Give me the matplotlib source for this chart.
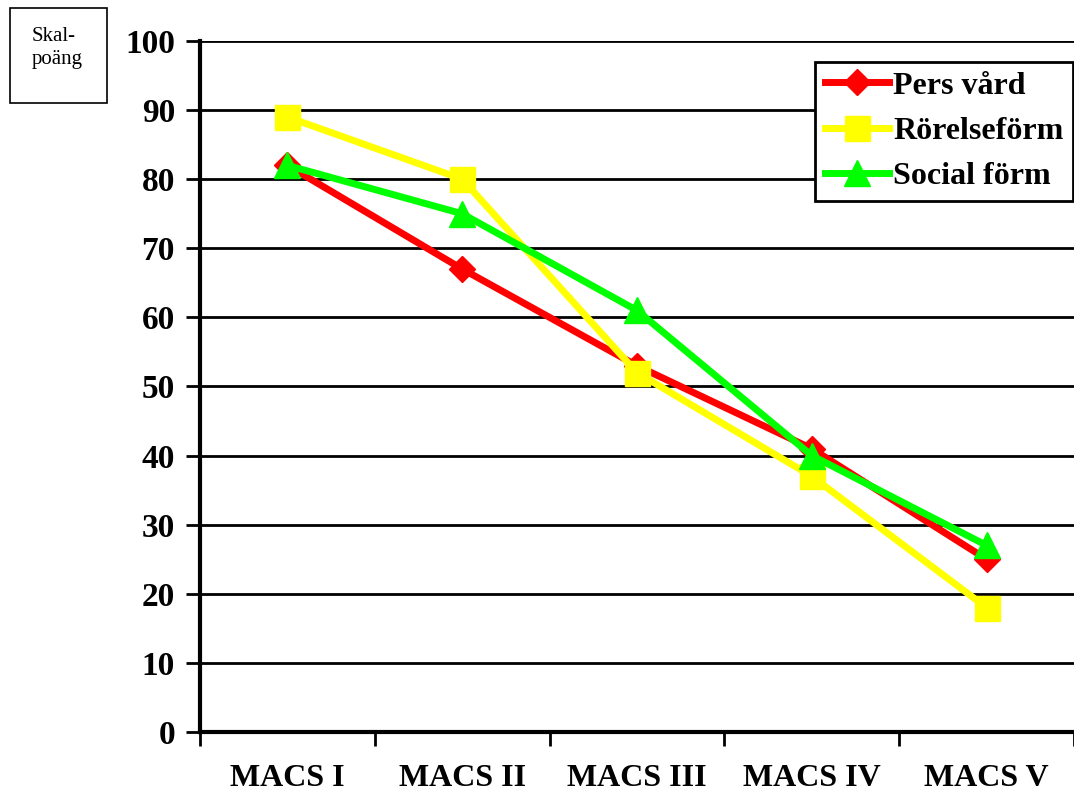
import matplotlib
matplotlib.use("Agg")
import matplotlib.pyplot as plt
from matplotlib.patches import Rectangle

categories = ["MACS I", "MACS II", "MACS III", "MACS IV", "MACS V"]
pers_vard = [82, 67, 53, 41, 25]
rorelseform = [89, 80, 52, 37, 18]
social_form = [82, 75, 61, 40, 27]
yticks = list(range(0, 101, 10))

plt.rcParams['font.family'] = ['Liberation Serif', 'DejaVu Serif']

fig = plt.figure(figsize=(10.74, 7.94), dpi=100)
ax = fig.add_axes([0.1862, 0.0781, 0.8138, 0.8703])

x = list(range(len(categories)))
ax.plot(x, pers_vard, color='#ff0000', lw=5, marker='D', ms=13, mec='#ff0000',
        label='Pers vård', zorder=3)
ax.plot(x, rorelseform, color='#ffff00', lw=5, marker='s', ms=18, mec='#ffff00',
        label='Rörelseförm', zorder=4)
ax.plot(x, social_form, color='#00ff00', lw=5, marker='^', ms=19, mec='#00ff00',
        label='Social förm', zorder=5)

ax.set_xlim(-0.5, len(categories) - 0.5)
ax.set_ylim(0, 100)
ax.set_yticks(yticks)
ax.set_yticklabels([str(v) for v in yticks], fontsize=24, fontweight='bold')
ax.set_xticks([i - 0.5 for i in range(len(categories) + 1)])
ax.set_xticklabels([])
ax.set_xticks(x, minor=True)
ax.set_xticklabels(categories, minor=True, fontsize=23, fontweight='bold')
ax.tick_params(axis='x', which='minor', length=0, pad=23)
ax.tick_params(axis='x', which='major', direction='out', length=10, width=2)
ax.tick_params(axis='y', direction='out', length=10, width=2, pad=8)

for v in yticks[1:]:
    ax.axhline(v, color='black', lw=2, zorder=1)

for s in ['top', 'right']:
    ax.spines[s].set_visible(False)
for s in ['left', 'bottom']:
    ax.spines[s].set_linewidth(3)

leg = ax.legend(loc='upper right', bbox_to_anchor=(0.999, 0.97),
                prop={'weight': 'bold', 'size': 23}, frameon=True, fancybox=False,
                edgecolor='black', framealpha=1, borderpad=0.3, handlelength=2.0,
                handletextpad=0.15, labelspacing=0.5, borderaxespad=0)
leg.get_frame().set_linewidth(2)
leg.set_zorder(10)

fig.patches.append(Rectangle((10 / 1074, 1 - 103 / 794), 97 / 1074, 95 / 794,
                             transform=fig.transFigure, fill=False,
                             ec='black', lw=1.2))
fig.text(32 / 1074, 1 - 48 / 794, "Skal-\npoäng", fontsize=15, ha='left',
         va='center', linespacing=1.3)

fig.savefig("out.png", dpi=100)
